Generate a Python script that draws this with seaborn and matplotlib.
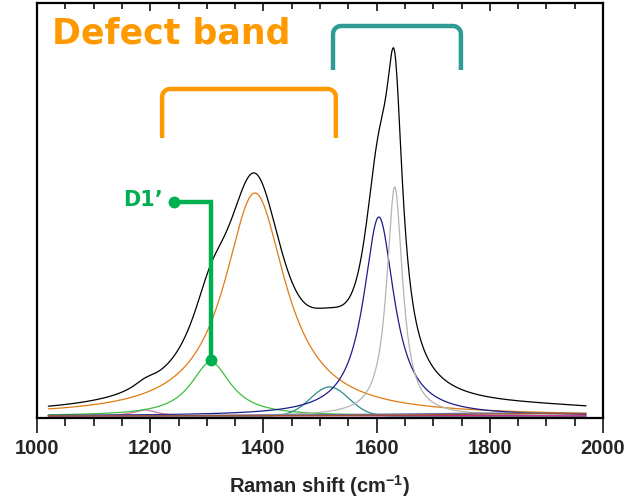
import numpy as np
import pandas as pd
import matplotlib
matplotlib.use('Agg')
import matplotlib.pyplot as plt
import seaborn as sns

# peak-fit components (Raman shift in cm-1, intensity in arbitrary units)
peak_names = ['D4', "D1'", 'D1', 'D3', 'G1', 'G2', 'low1', 'low2', 'low3']
peak_centers = [1191, 1307, 1385, 1517, 1604, 1632, 1500, 1850, 1900]
peak_heights = [6, 54, 223, 29, 199, 229, 0.6, 3, 2.5]
peak_hwhm = [25, 43, 66, 40, 33, 17, 250, 300, 200]
peak_shapes = ['L', 'L', 'L', 'G', 'L', 'L', 'L', 'L', 'L']
peak_colors = ['#d070a8', '#3dbe3d', '#e07b10', '#2a8c8c', '#1c1c8c',
               '#b4b4b4', '#d0208f', '#6673a6', '#a0522d']

x_range = [1020, 1970]

# bracket / annotation placement
orange_bracket_x = [1221, 1528]
orange_bracket_y = [278, 327]
teal_bracket_x = [1523, 1749]
teal_bracket_y = [346, 390]
d1p_x = [1242, 1307]
d1p_y = [214, 56]

shift = np.linspace(x_range[0], x_range[1], 951)


def profile(x, c, h, w, shape):
    if shape == 'G':
        s = w / np.sqrt(2 * np.log(2))
        return h * np.exp(-(x - c) ** 2 / (2 * s ** 2))
    return h / (1 + ((x - c) / w) ** 2)


frames = []
total = np.zeros_like(shift)
for name, c, h, w, sh in zip(peak_names, peak_centers, peak_heights, peak_hwhm, peak_shapes):
    y = profile(shift, c, h, w, sh)
    total += y
    frames.append(pd.DataFrame({'shift': shift, 'intensity': y, 'peak': name}))
df = pd.concat(frames, ignore_index=True)

sns.set_style('ticks')
plt.rcParams['font.family'] = ['Liberation Sans', 'DejaVu Sans']
plt.rcParams['mathtext.fontset'] = 'custom'
plt.rcParams['mathtext.bf'] = 'Liberation Sans:bold'
plt.rcParams['mathtext.rm'] = 'Liberation Sans:bold'

fig = plt.figure(figsize=(6.29, 5.0), dpi=100)
ax = fig.add_axes([37 / 629, 82 / 500, 566 / 629, 415 / 500])

sns.lineplot(data=df, x='shift', y='intensity', hue='peak', hue_order=peak_names,
             palette=peak_colors, linewidth=0.9, legend=False, ax=ax, sort=False)
sns.lineplot(x=shift, y=total, color='black', linewidth=0.9, ax=ax, sort=False)

ax.set_xlim(1000, 2000)
ax.set_ylim(-2, 413)
ax.set_yticks([])
ax.set_ylabel('')
ax.set_xticks(np.arange(1000, 2001, 200))
ax.set_xticks(np.arange(1000, 2001, 50), minor=True)
ax.tick_params(axis='x', which='major', direction='out', length=11, width=1.3,
               labelsize=14.5, pad=4)
ax.tick_params(axis='x', which='minor', direction='out', length=6, width=1.3)
for lab in ax.get_xticklabels():
    lab.set_fontweight('bold')
for s in ax.spines.values():
    s.set_linewidth(1.6)
    s.set_color('black')

# mirrored ticks on top pointing inward
top = ax.secondary_xaxis('top')
top.set_xticks(np.arange(1000, 2001, 200))
top.set_xticks(np.arange(1000, 2001, 50), minor=True)
top.tick_params(axis='x', which='major', direction='in', length=6, width=1.3, labeltop=False)
top.tick_params(axis='x', which='minor', direction='in', length=4, width=1.3)
top.spines['top'].set_visible(False)

ax.set_xlabel(r'Raman shift (cm$\mathbf{^{-1}}$)', fontsize=14.5, fontweight='bold', labelpad=11)


# brackets with rounded corners (radius in pixels, converted to data units)
def bracket(xs, ys, color):
    rx = 8 / 0.566
    ry = 8.0
    t = np.linspace(0, np.pi / 2, 12)
    left_x = xs[0] + rx * (1 - np.cos(t))
    left_y = ys[1] - ry + ry * np.sin(t)
    right_x = xs[1] - rx + rx * np.sin(t)
    right_y = ys[1] - ry + ry * np.cos(t)
    bx = np.concatenate([[xs[0]], left_x, right_x, [xs[1]]])
    by = np.concatenate([[ys[0]], left_y, right_y, [ys[0]]])
    ax.plot(bx, by, color=color, lw=3.2, solid_joinstyle='round', solid_capstyle='butt')


bracket(orange_bracket_x, orange_bracket_y, '#ff9900')
bracket(teal_bracket_x, teal_bracket_y, '#2e9b94')

ax.text(1026, 372, 'Defect band', color='#ff9900', fontsize=25, fontweight='bold',
        family='DejaVu Sans', va='baseline', ha='left')

# D1' marker
ax.plot([d1p_x[0], d1p_x[1], d1p_x[1]], [d1p_y[0], d1p_y[0], d1p_y[1]],
        color='#00b050', lw=3.2, solid_joinstyle='miter')
ax.plot([d1p_x[0], d1p_x[1]], [d1p_y[0], d1p_y[1]], 'o', color='#00b050', ms=7.5)
ax.text(1222, 216, 'D1\u2019', color='#00b050', fontsize=15, fontweight='bold',
        family='DejaVu Sans', va='center', ha='right')

fig.savefig('out.png', dpi=100)
